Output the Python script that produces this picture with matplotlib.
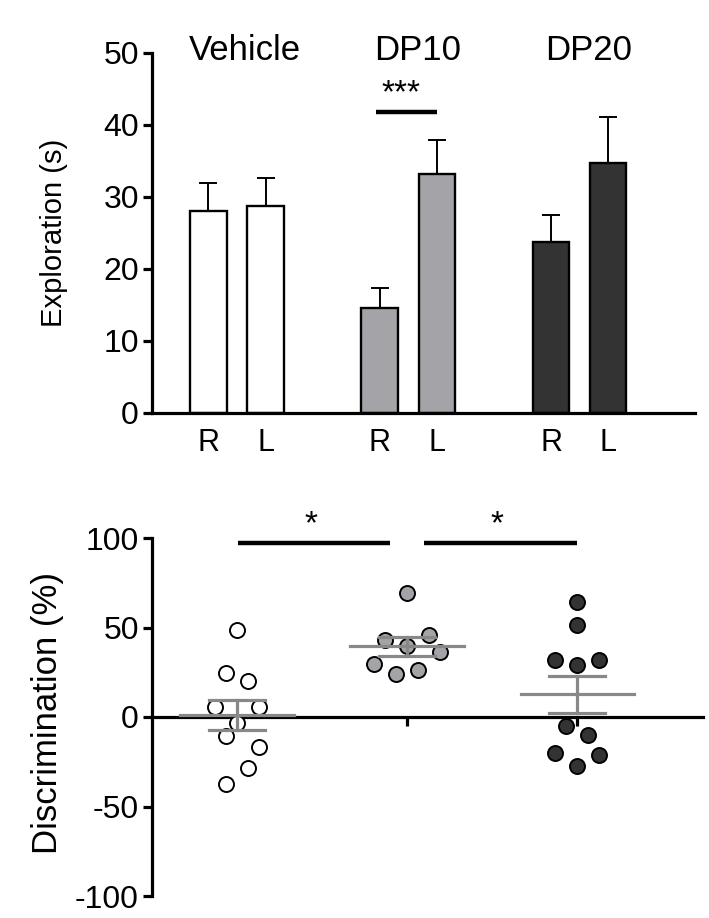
import numpy as np
import matplotlib
matplotlib.use("Agg")
from matplotlib import pyplot as plt

plt.rcParams['font.family'] = ['Liberation Sans', 'DejaVu Sans']

# top panel: exploration time per object side
groups = ["Vehicle", "DP10", "DP20"]
sides = ["R", "L", "R", "L", "R", "L"]
explore_mean = [28.0, 28.7, 14.6, 33.2, 23.8, 34.7]
explore_err = [4.0, 4.0, 2.7, 4.7, 3.7, 6.4]
bar_colors = ["white", "white", "#a4a4a8", "#a4a4a8", "#333333", "#333333"]

# bottom panel: discrimination index, single animals
vehicle_vals = [48.8, 24.7, 20.0, 5.8, 5.4, -3.1, -10.6, -17.0, -28.7, -37.5]
vehicle_jit = [0, -0.065, 0.065, -0.13, 0.13, 0, -0.065, 0.13, 0.065, -0.065]
dp10_vals = [69.2, 43.2, 46.0, 39.5, 36.2, 29.7, 26.5, 24.3]
dp10_jit = [0, -0.13, 0.13, 0, 0.196, -0.196, 0.065, -0.065]
dp20_vals = [64.2, 51.6, 31.9, 31.9, 29.3, -5.0, -10.2, -20.2, -21.1, -27.3]
dp20_jit = [0, 0, -0.13, 0.13, 0, -0.065, 0.065, -0.13, 0.13, 0]
disc_mean = [1.0, 39.5, 12.6]
disc_sem = [8.3, 5.2, 10.2]
dot_colors = ["white", "#a4a4a8", "#333333"]

W, H = 709, 918
fig = plt.figure(figsize=(W / 100, H / 100), dpi=100)

lw = 2.3
fs_tick = 23

# ---------------- top bar chart ----------------
ax1 = fig.add_axes([152 / W, 1 - 413 / H, (695 - 152) / W, (413 - 53) / H])
xpos = np.array([0, 1, 3, 4, 6, 7])
ax1.bar(xpos, explore_mean, width=0.64, color=bar_colors, edgecolor="black",
        linewidth=1.7, zorder=2)
ax1.errorbar(xpos, explore_mean, yerr=[np.zeros(6), explore_err], fmt="none",
             ecolor="black", elinewidth=1.4, capsize=6.5, capthick=1.4, zorder=1)
ax1.set_xlim(-0.988, 8.52)
ax1.set_ylim(0, 50)
ax1.set_yticks([0, 10, 20, 30, 40, 50])
ax1.set_xticks(xpos, sides)
ax1.tick_params(axis="x", length=0, pad=11, labelsize=22)
ax1.tick_params(axis="y", length=6.5, width=lw, pad=3, labelsize=fs_tick)
for s in ["top", "right"]:
    ax1.spines[s].set_visible(False)
for s in ["left", "bottom"]:
    ax1.spines[s].set_linewidth(lw)

group_x = [0.64, 3.67, 6.65]
for gx, g in zip(group_x, groups):
    ax1.text(gx, 49.0, g, ha="center", va="baseline", fontsize=25)

# significance DP10 R vs L
ax1.plot([2.935, 3.998], [41.85, 41.85], color="black", lw=3.2, solid_capstyle="butt")
ax1.text(3.37, 42.2, "***", ha="center", va="bottom", fontsize=24)

fig.text(54 / W, 1 - 233 / H, "Exploration (s)", rotation=90, ha="center",
         va="center", fontsize=21)

# ---------------- bottom scatter ----------------
ax2 = fig.add_axes([152 / W, 1 - 896 / H, (703 - 152) / W, (896 - 538) / H])
all_vals = [vehicle_vals, dp10_vals, dp20_vals]
all_jit = [vehicle_jit, dp10_jit, dp20_jit]
for i in range(3):
    xs = i + np.array(all_jit[i])
    ax2.plot(xs, all_vals[i], "o", ms=10.8, mfc=dot_colors[i], mec="black",
             mew=1.4, zorder=2, clip_on=False)
    # mean +/- sem
    m, e = disc_mean[i], disc_sem[i]
    ax2.plot([i - 0.333, i + 0.333], [m, m], color="#888888", lw=lw, zorder=3)
    ax2.plot([i - 0.165, i + 0.165], [m + e, m + e], color="#888888", lw=lw, zorder=3)
    ax2.plot([i - 0.165, i + 0.165], [m - e, m - e], color="#888888", lw=lw, zorder=3)
    ax2.plot([i, i], [m - e, m + e], color="#888888", lw=lw, zorder=3)

ax2.set_xlim(-0.5, 2.74)
ax2.set_ylim(-100, 100)
ax2.set_yticks([-100, -50, 0, 50, 100])
ax2.set_yticklabels(["-100", "-50", "0", "50", "100"])
ax2.set_xticks([0, 1, 2])
ax2.set_xticklabels([])
ax2.tick_params(axis="x", length=6.5, width=lw, direction="out")
ax2.tick_params(axis="y", length=6.5, width=lw, pad=3, labelsize=fs_tick)
ax2.spines["bottom"].set_position(("data", 0))
for s in ["top", "right"]:
    ax2.spines[s].set_visible(False)
for s in ["left", "bottom"]:
    ax2.spines[s].set_linewidth(lw)
ax2.spines["bottom"].set_zorder(1)

# significance lines
ax2.plot([0.006, 0.9], [97.0, 97.0], color="black", lw=3.2, clip_on=False,
         solid_capstyle="butt")
ax2.plot([1.1, 2.0], [97.4, 97.4], color="black", lw=3.2, clip_on=False,
         solid_capstyle="butt")
ax2.text(0.434, 99, "*", ha="center", va="bottom", fontsize=24)
ax2.text(1.527, 99, "*", ha="center", va="bottom", fontsize=24)

fig.text(48 / W, 1 - 713 / H, "Discrimination (%)", rotation=90, ha="center",
         va="center", fontsize=25)

fig.savefig("out.png", dpi=100)
